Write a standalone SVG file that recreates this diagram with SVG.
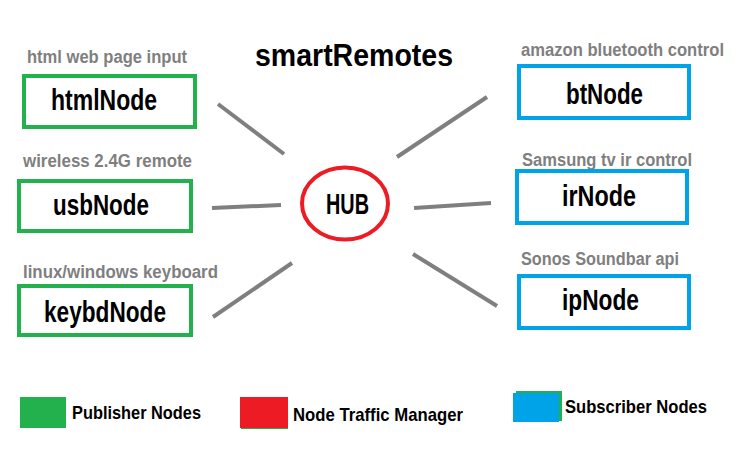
<svg xmlns="http://www.w3.org/2000/svg" width="754" height="467" viewBox="0 0 754 467">
<style>
.bg{fill:#ffffff}
.pub{fill:#ffffff;stroke:#22b14c;stroke-width:4}
.sub{fill:#ffffff;stroke:#00a2e8;stroke-width:4}
.hub{fill:#ffffff;stroke:#ed1c24;stroke-width:4}
.lbl{font-family:"Liberation Sans",Arial,sans-serif;font-weight:bold;fill:#000000}
.node{font-size:29px}
.cap{font-family:"Liberation Sans",Arial,sans-serif;font-weight:bold;fill:#7f7f7f;font-size:18px}
.conn line{stroke:#7f7f7f;stroke-width:4}
.leg{font-size:19px}
</style>
<rect class="bg" x="0" y="0" width="754" height="467"/>
<text id="title" class="lbl" x="255" y="66" font-size="32" textLength="198" lengthAdjust="spacingAndGlyphs">smartRemotes</text>
<g id="connectors" class="conn">
<line x1="218" y1="104" x2="284" y2="154"/>
<line x1="212" y1="208" x2="281" y2="205"/>
<line x1="213" y1="317" x2="292" y2="263"/>
<line x1="397" y1="157" x2="487" y2="97"/>
<line x1="414" y1="208" x2="491" y2="203"/>
<line x1="413" y1="254" x2="497" y2="306"/>
</g>
<g id="htmlNode">
<text class="cap" x="27" y="63" textLength="160" lengthAdjust="spacingAndGlyphs">html web page input</text>
<rect class="pub" x="24" y="76" width="171" height="51"/>
<text class="lbl node" x="51" y="110" textLength="106" lengthAdjust="spacingAndGlyphs">htmlNode</text>
</g>
<g id="usbNode">
<text class="cap" x="23" y="167" textLength="169" lengthAdjust="spacingAndGlyphs">wireless 2.4G remote</text>
<rect class="pub" x="19" y="181" width="172" height="50"/>
<text class="lbl node" x="53" y="215" textLength="96" lengthAdjust="spacingAndGlyphs">usbNode</text>
</g>
<g id="keybdNode">
<text class="cap" x="23" y="278" textLength="195" lengthAdjust="spacingAndGlyphs">linux/windows keyboard</text>
<rect class="pub" x="19" y="286" width="172" height="49"/>
<text class="lbl node" x="44" y="322" textLength="122" lengthAdjust="spacingAndGlyphs">keybdNode</text>
</g>
<g id="hub">
<ellipse class="hub" cx="345" cy="203.5" rx="43" ry="36"/>
<text class="lbl" x="326" y="214" font-size="29" textLength="43" lengthAdjust="spacingAndGlyphs">HUB</text>
</g>
<g id="btNode">
<text class="cap" x="521" y="56" textLength="203" lengthAdjust="spacingAndGlyphs">amazon bluetooth control</text>
<rect class="sub" x="519" y="66" width="170" height="52"/>
<text class="lbl node" x="566" y="104" textLength="77" lengthAdjust="spacingAndGlyphs">btNode</text>
</g>
<g id="irNode">
<text class="cap" x="522" y="166" textLength="170" lengthAdjust="spacingAndGlyphs">Samsung tv ir control</text>
<rect class="sub" x="517" y="171" width="170" height="52"/>
<text class="lbl node" x="562" y="206" textLength="74" lengthAdjust="spacingAndGlyphs">irNode</text>
</g>
<g id="ipNode">
<text class="cap" x="521" y="265" textLength="158" lengthAdjust="spacingAndGlyphs">Sonos Soundbar api</text>
<rect class="sub" x="519" y="276" width="170" height="52"/>
<text class="lbl node" x="562" y="310" textLength="77" lengthAdjust="spacingAndGlyphs">ipNode</text>
</g>
<g id="legend">
<rect x="20" y="397" width="46" height="31" fill="#22b14c"/>
<text class="lbl leg" x="72" y="419" textLength="129" lengthAdjust="spacingAndGlyphs">Publisher Nodes</text>
<rect x="241" y="398" width="47" height="31" fill="#22b14c"/>
<rect x="240" y="397" width="48" height="31" fill="#ed1c24"/>
<text class="lbl leg" x="293" y="421" textLength="170" lengthAdjust="spacingAndGlyphs">Node Traffic Manager</text>
<rect x="516" y="391" width="46" height="30" fill="#22b14c"/>
<rect x="513" y="393" width="46" height="29" fill="#00a2e8"/>
<text class="lbl leg" x="565" y="413" textLength="142" lengthAdjust="spacingAndGlyphs">Subscriber Nodes</text>
</g>
</svg>
